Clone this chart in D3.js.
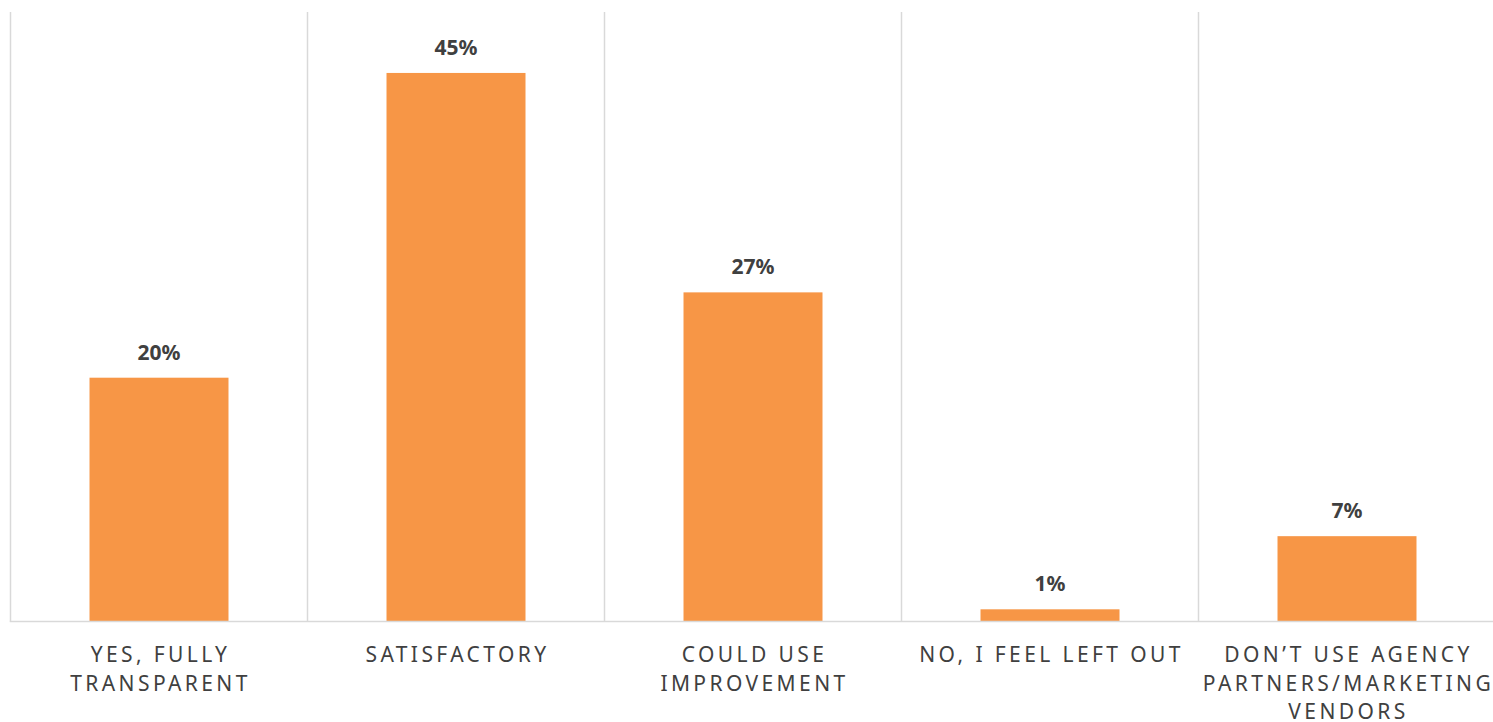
<!DOCTYPE html>
<html>
<head>
<meta charset="utf-8">
<script src="https://cdn.jsdelivr.net/npm/d3@7"></script>
<style>
  html, body { margin: 0; padding: 0; background: #ffffff; }
  svg { display: block; }
</style>
</head>
<body>
<script>
// Survey responses: share of respondents per answer
const categories = [
  "YES, FULLY\nTRANSPARENT",
  "SATISFACTORY",
  "COULD USE\nIMPROVEMENT",
  "NO, I FEEL LEFT OUT",
  "DON\u2019T USE AGENCY\nPARTNERS/MARKETING\nVENDORS"
];
const values = [0.20, 0.45, 0.27, 0.01, 0.07];

const W = 1493, H = 722;
const svg = d3.select("body").append("svg")
  .attr("width", W).attr("height", H);

const plotLeft = 10.5, plotRight = 1495.5, plotTop = 12, plotBottom = 621.5;

const x = d3.scaleBand()
  .domain(categories)
  .range([plotLeft, plotRight])
  .paddingInner(0.532)
  .paddingOuter(0.266);

const y = d3.scaleLinear()
  .domain([0, 0.5])
  .range([plotBottom, plotTop]);

const gridColor = "#d9d9d9";
const textColor = "#404040";
const font = "'Noto Sans', 'Open Sans', sans-serif";

// vertical separators at category boundaries
const step = x.step();
const bounds = d3.range(categories.length + 1).map(i => plotLeft + i * step);
svg.append("g").selectAll("line").data(bounds).join("line")
  .attr("x1", d => d).attr("x2", d => d)
  .attr("y1", plotTop).attr("y2", plotBottom)
  .attr("stroke", gridColor).attr("stroke-width", 1.5);

// bars
svg.append("g").selectAll("rect").data(values).join("rect")
  .attr("x", (d, i) => x(categories[i]))
  .attr("width", x.bandwidth())
  .attr("y", d => y(d))
  .attr("height", d => y(0) - y(d))
  .attr("fill", "#F79646");

// baseline
svg.append("line")
  .attr("x1", plotLeft - 0.75).attr("x2", W)
  .attr("y1", plotBottom).attr("y2", plotBottom)
  .attr("stroke", gridColor).attr("stroke-width", 1.5);

// value labels
const fmt = d3.format(".0%");
svg.append("g").selectAll("text").data(values).join("text")
  .attr("x", (d, i) => x(categories[i]) + x.bandwidth() / 2)
  .attr("y", d => y(d) - 18)
  .attr("text-anchor", "middle")
  .attr("font-family", font)
  .attr("font-weight", "bold")
  .attr("font-size", 21)
  .attr("fill", textColor)
  .text(d => fmt(d));

// category labels (explicit line breaks)
const labels = svg.append("g").selectAll("text").data(categories).join("text")
  .attr("x", d => x(d) + x.bandwidth() / 2)
  .attr("y", 662)
  .attr("text-anchor", "middle")
  .attr("font-family", font)
  .attr("font-size", 21)
  .attr("letter-spacing", 3.4)
  .attr("fill", textColor);

labels.each(function(d) {
  const t = d3.select(this);
  const cx = x(d) + x.bandwidth() / 2;
  d.split("\n").forEach((line, j) => {
    t.append("tspan")
      .attr("x", cx + 1.5)
      .attr("dy", j === 0 ? 0 : 28.5)
      .text(line);
  });
});
</script>
</body>
</html>
